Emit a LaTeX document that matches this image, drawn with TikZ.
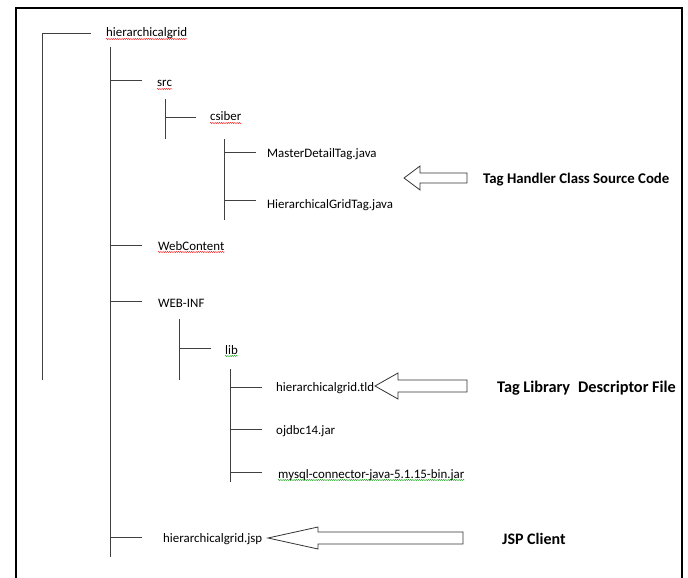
\documentclass[tikz,border=0pt]{standalone}
\usepackage{fontspec}
\setmainfont{Carlito}
\usetikzlibrary{decorations.pathmorphing}
\tikzset{
  treeline/.style={draw=black!75, line width=0.85pt},
  item/.style={anchor=base west, inner sep=0pt, font=\fontsize{12.9}{14}\selectfont},
  tag/.style={anchor=base west, inner sep=0pt, font=\fontsize{14.8}{16}\selectfont\bfseries},
  squig/.style={draw=#1, line width=0.4pt, decorate, decoration={snake, amplitude=0.55pt, segment length=2.2pt}},
  blk/.style={draw=black!80, line width=0.8pt, fill=white, line join=miter}
}
\newcommand\blkarrow[6]{% tipx, y, basex, tailx, headhalf, shafthalf
  \draw[blk] (#1,#2) -- (#3,#2-#5) -- (#3,#2-#6) -- (#4,#2-#6) -- (#4,#2+#6) -- (#3,#2+#6) -- (#3,#2+#5) -- cycle;}
\newcommand\squigunder[2]{% node, colour
  \draw[squig=#2] ([yshift=-2pt]#1.base west) -- ([yshift=-2pt]#1.base east);}
\begin{document}
\begin{tikzpicture}[x=1pt,y=-1pt]
\useasboundingbox (0,0) rectangle (688,578);
% frame
\draw[line width=2.2pt] (16,590) -- (16,8) -- (682,8) -- (682,590);
% text nodes
\node[item] (root) at (106,37) {hierarchicalgrid};
\node[item] (src) at (157,87) {src};
\node[item] (csiber) at (210,121) {csiber};
\node[item] (mdt) at (267,157) {MasterDetailTag.java};
\node[item] (hgt) at (267,208) {HierarchicalGridTag.java};
\node[item] (wc) at (158,250) {WebContent};
\node[item] (webinf) at (158,307) {WEB-INF};
\node[item] (lib) at (225,354) {lib};
\node[item] (tld) at (276,391) {hierarchicalgrid.tld};
\node[item] (oj) at (276,434) {ojdbc14.jar};
\node[item] (my) at (278,478) {mysql-connector-java-5.1.15-bin.jar};
\node[item] (jsp) at (163,542) {hierarchicalgrid.jsp};
\node[tag] (t1) at (483,183) {Tag Handler Class Source Code};
\node[tag, font=\fontsize{16.3}{18}\selectfont\bfseries] (t2) at (497,392) {Tag Library\hspace{8pt}Descriptor File};
\node[tag, font=\fontsize{16}{18}\selectfont\bfseries] (t3) at (502,544) {JSP Client};
% spell-check squiggles
\squigunder{root}{red}
\squigunder{src}{red}
\squigunder{csiber}{red}
\squigunder{wc}{red}
\squigunder{lib}{green!60!black}
\squigunder{my}{green!60!black}
% tree lines
\coordinate (r0) at (42,33);
\draw[treeline] (42,380) -- (r0) -- (91,33);
\draw[treeline] (110,47) -- (110,557);
\foreach \yy in {80,245,301,537} \draw[treeline] (110,\yy) -- (142,\yy);
\draw[treeline] (165,99) -- (165,139);
\draw[treeline] (165,117) -- (196,117);
\draw[treeline] (224,139) -- (224,220);
\foreach \yy in {152,200} \draw[treeline] (224,\yy) -- (256,\yy);
\draw[treeline] (179,319) -- (179,380);
\draw[treeline] (179,348) -- (211,348);
\draw[treeline] (230,369) -- (230,482);
\foreach \yy in {387,429,472} \draw[treeline] (230,\yy) -- (262,\yy);
% block arrows
\blkarrow{404}{178}{420}{467}{12}{5}
\blkarrow{375}{386}{398}{467}{13}{6}
\blkarrow{268}{538}{318}{463}{11}{6}
\end{tikzpicture}
\end{document}
